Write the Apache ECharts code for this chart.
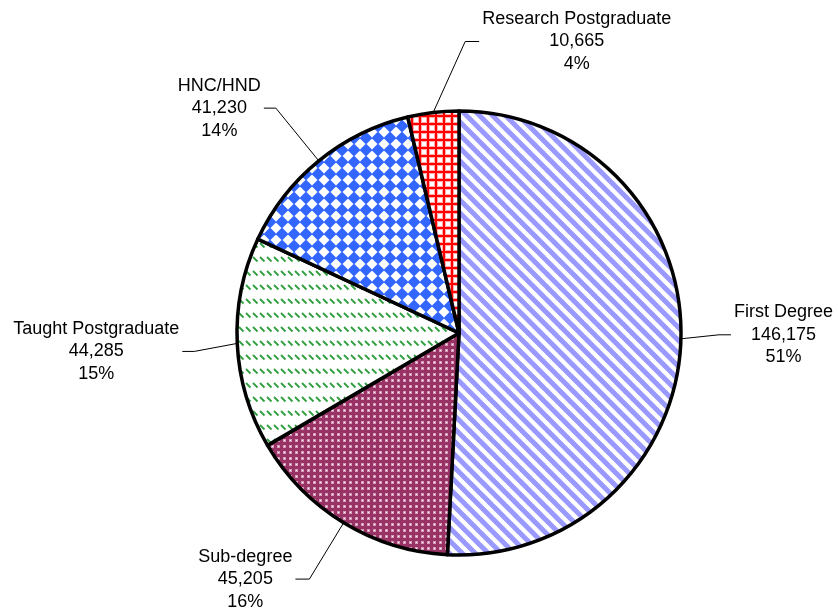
<!DOCTYPE html>
<html>
<head>
<meta charset="utf-8">
<script src="https://cdn.jsdelivr.net/npm/echarts@6/dist/echarts.min.js"></script>
<style>
  html, body { margin: 0; padding: 0; background: #fff; }
  #chart { width: 838px; height: 611px; }
</style>
</head>
<body>
<div id="chart"></div>
<script>
// qualification categories and student counts
var categories = ['First Degree', 'Sub-degree', 'Taught Postgraduate', 'HNC/HND', 'Research Postgraduate'];
var students = [146175, 45205, 44285, 41230, 10665];

// leader line lengths per slice (radial, horizontal) and vertical nudge of the elbow
var lineLen = [38, 66, 43, 68, 10];
var lineLen2 = [12, 14, 12, 12, 10];
var elbowDy = [-5, 0, 6, 0, 0];

function makePattern(w, h, draw) {
    var c = document.createElement('canvas');
    c.width = w;
    c.height = h;
    var ctx = c.getContext('2d');
    draw(ctx, w, h);
    return { image: c, repeat: 'repeat' };
}

// diagonal lavender stripes
var stripes = makePattern(13, 13, function (ctx, w, h) {
    ctx.fillStyle = '#fff';
    ctx.fillRect(0, 0, w, h);
    ctx.strokeStyle = '#9999ff';
    ctx.lineWidth = 5;
    for (var k = -1; k <= 1; k++) {
        ctx.beginPath();
        ctx.moveTo(k * w - 2, -2);
        ctx.lineTo(k * w + w + 2, h + 2);
        ctx.stroke();
    }
});

// maroon with white dots
var dots = makePattern(6, 6, function (ctx, w, h) {
    ctx.fillStyle = '#993366';
    ctx.fillRect(0, 0, w, h);
    ctx.fillStyle = '#d79ab8';
    ctx.fillRect(1, 1, 3, 3);
    ctx.fillStyle = '#fff';
    ctx.fillRect(2, 2, 1, 1);
});

// green short dashes
var dashes = makePattern(7, 14, function (ctx, w, h) {
    ctx.fillStyle = '#fff';
    ctx.fillRect(0, 0, w, h);
    ctx.strokeStyle = '#2e9e3e';
    ctx.lineWidth = 1.8;
    ctx.beginPath();
    ctx.moveTo(1, 5);
    ctx.lineTo(5.5, 9.5);
    ctx.stroke();
});

// blue diamonds
var diamonds = makePattern(12, 12, function (ctx, w, h) {
    ctx.fillStyle = '#fff';
    ctx.fillRect(0, 0, w, h);
    ctx.fillStyle = '#3366ff';
    ctx.beginPath();
    ctx.moveTo(w / 2, -0.5);
    ctx.lineTo(w + 0.5, h / 2);
    ctx.lineTo(w / 2, h + 0.5);
    ctx.lineTo(-0.5, h / 2);
    ctx.closePath();
    ctx.fill();
});

// red grid
var grid = makePattern(8, 8, function (ctx, w, h) {
    ctx.fillStyle = '#fff';
    ctx.fillRect(0, 0, w, h);
    ctx.fillStyle = '#ffaaaa';
    ctx.fillRect(2, 0, 4, h);
    ctx.fillRect(0, 2, w, 4);
    ctx.fillStyle = '#fff';
    ctx.fillRect(0, 0, 2, 2);
    ctx.fillRect(6, 0, 2, 2);
    ctx.fillRect(0, 6, 2, 2);
    ctx.fillRect(6, 6, 2, 2);
    ctx.fillStyle = '#ff0000';
    ctx.fillRect(3, 0, 2, h);
    ctx.fillRect(0, 3, w, 2);
});

var fills = [stripes, dots, dashes, diamonds, grid];

function addCommas(n) {
    return String(n).replace(/\B(?=(\d{3})+(?!\d))/g, ',');
}

var pieData = categories.map(function (name, i) {
    return {
        name: name,
        value: students[i],
        itemStyle: { color: fills[i] },
        labelLine: { length: lineLen[i], length2: lineLen2[i] }
    };
});

var chart = echarts.init(document.getElementById('chart'), null, { renderer: 'canvas' });

chart.setOption({
    animation: false,
    backgroundColor: '#fff',
    series: [{
        type: 'pie',
        center: [459, 333],
        radius: 222,
        startAngle: 90,
        clockwise: true,
        avoidLabelOverlap: false,
        percentPrecision: 0,
        itemStyle: { borderColor: '#000', borderWidth: 3.5 },
        label: {
            show: true,
            position: 'outside',
            distanceToLabelLine: 3,
            color: '#000',
            fontFamily: 'Liberation Sans, Arial, sans-serif',
            fontSize: 18,
            lineHeight: 22.5,
            formatter: function (p) {
                return '{t|' + p.name + '}\n{t|' + addCommas(p.value) + '}\n{t|' + p.percent + '%}';
            },
            rich: {
                t: {
                    align: 'center',
                    color: '#000',
                    fontFamily: 'Liberation Sans, Arial, sans-serif',
                    fontSize: 18,
                    lineHeight: 22.5
                }
            }
        },
        labelLine: {
            show: true,
            smooth: false,
            lineStyle: { color: '#000', width: 1 }
        },
        labelLayout: function (params) {
            var pts = params.labelLinePoints;
            if (!pts) {
                return {};
            }
            var p0 = pts[0];
            var i = params.dataIndex;
            // the smallest slice gets its label to the right, like the original
            if (i === 4) {
                var ly = p0[1] - 71;
                return {
                    x: p0[0] + 49,
                    y: ly,
                    align: 'left',
                    verticalAlign: 'middle',
                    labelLinePoints: [p0, [p0[0] + 32, ly], [p0[0] + 46, ly]]
                };
            }
            var d = elbowDy[i];
            if (!d) {
                return {};
            }
            return {
                dy: d,
                labelLinePoints: [p0, [pts[1][0], pts[1][1] + d], [pts[2][0], pts[2][1] + d]]
            };
        },
        data: pieData
    }]
});
</script>
</body>
</html>
